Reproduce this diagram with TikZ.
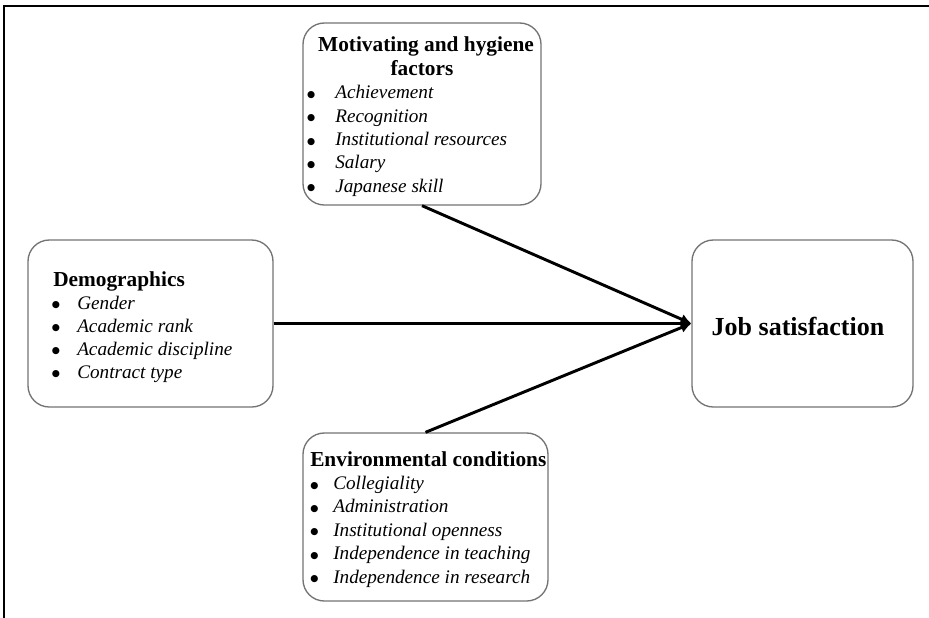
\documentclass[tikz,border=0pt]{standalone}
\usepackage{fontspec}
\setmainfont{Liberation Serif}
\newfontfamily\symfont{DejaVu Sans}
\usetikzlibrary{arrows.meta}

% bullet in front of an item, #1 = gap to the text
\newcommand{\itembullet}[1]{\llap{\raisebox{1pt}{\symfont\fontsize{7}{7}\selectfont ●}\hspace{#1}}}

\tikzset{
    % Boxes - grey rounded frames
    factor box/.style={draw=black!55, line width=1pt, rounded corners=16pt, inner sep=0pt},
    % Text styles
    box title/.style={font=\fontsize{16}{19}\selectfont\bfseries, inner sep=0pt},
    item/.style={font=\fontsize{14.4}{17}\selectfont\itshape, anchor=base west, inner sep=0pt},
    % Connectors
    link/.style={-{Latex[length=8pt,width=8pt]}, line width=2.2pt},
    frame line/.style={line width=1.8pt},
}

\begin{document}
\begin{tikzpicture}[x=0.75pt, y=-0.75pt]
    \useasboundingbox (0,0) rectangle (929,618);

    % Outer frame (top and left only)
    \draw[frame line] (4,618) -- (4,6) -- (929,6);

    % Boxes
    \node[factor box, minimum width=178.5pt, minimum height=136.5pt] (mot) at (422,114) {};
    \node[factor box, minimum width=183.75pt, minimum height=125.25pt] (demo) at (150.5,323.5) {};
    \node[factor box, minimum width=183.75pt, minimum height=126pt] (env) at (425.5,517) {};
    \node[factor box, minimum width=165.75pt, minimum height=125.25pt] (job) at (802.5,323.5) {};

    % Motivating and hygiene factors
    \node[box title, anchor=base] (mot-title1) at (426,51) {Motivating and hygiene};
    \node[box title, anchor=base] (mot-title2) at (422,75) {factors};
    \foreach \t [count=\i] in {Achievement, Recognition, Institutional resources, Salary, Japanese skill}
        \node[item] (mot-\i) at (335,75.5+23.3*\i) {\itembullet{15pt}\t};

    % Demographics
    \node[box title, anchor=base west] (demo-title) at (53,286) {Demographics};
    \foreach \t [count=\i] in {Gender, Academic rank, Academic discipline, Contract type}
        \node[item] (demo-\i) at (77,286+23*\i) {\itembullet{13pt}\t};

    % Environmental conditions
    \node[box title, anchor=base west] (env-title) at (310,466) {Environmental conditions};
    \foreach \t [count=\i] in {Collegiality, Administration, Institutional openness, Independence in teaching, Independence in research}
        \node[item] (env-\i) at (333,466+23.4*\i) {\itembullet{11pt}\t};

    % Job satisfaction
    \node[font=\fontsize{19.5}{23}\selectfont\bfseries, anchor=base, inner sep=0pt] (job-title) at (798,335) {Job satisfaction};

    % Arrows
    \draw[link] (mot.south) -- (job.west);
    \draw[link] (demo.east) -- (job.west);
    \draw[link] (env.north) -- (job.west);
\end{tikzpicture}
\end{document}
